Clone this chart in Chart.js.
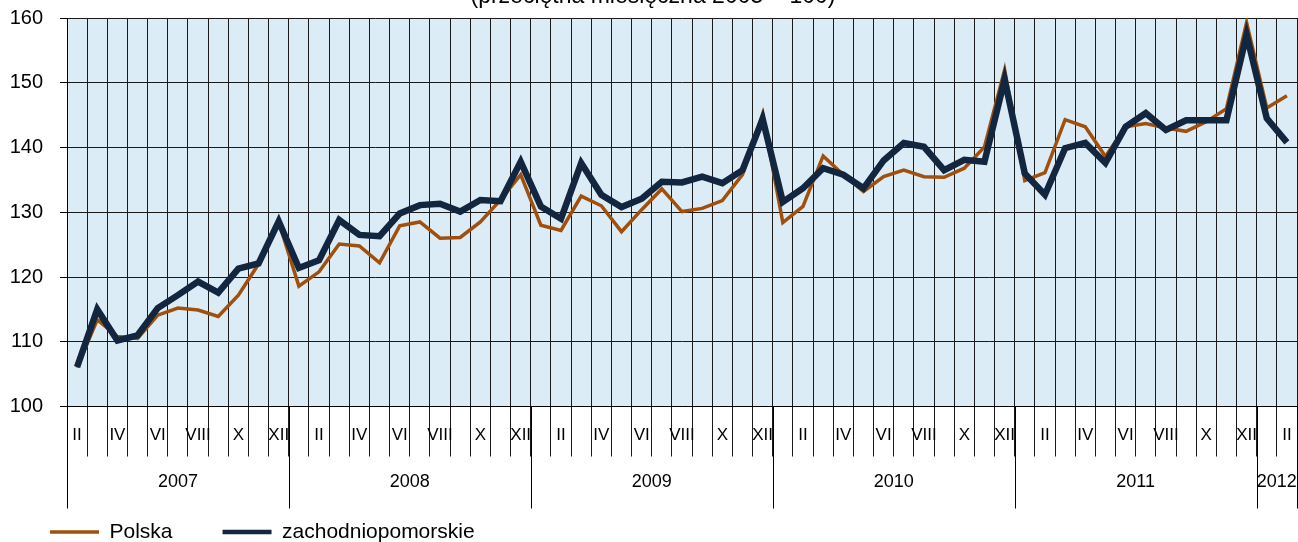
<!DOCTYPE html>
<html>
<head>
<meta charset="utf-8">
<script src="https://cdn.jsdelivr.net/npm/chart.js@4.4.1/dist/chart.umd.min.js"></script>
<style>
html,body{margin:0;padding:0;background:#fff;}
#wrap{width:1298px;height:542px;position:relative;}
canvas{display:block;}
</style>
</head>
<body>
<div id="wrap"><canvas id="c" width="1298" height="542"></canvas></div>
<script>
// ---------------- data ----------------
const titleText = '(przeciętna miesięczna 2005 = 100)';

const months = [
  'II','III','IV','V','VI','VII','VIII','IX','X','XI','XII',
  'I','II','III','IV','V','VI','VII','VIII','IX','X','XI','XII',
  'I','II','III','IV','V','VI','VII','VIII','IX','X','XI','XII',
  'I','II','III','IV','V','VI','VII','VIII','IX','X','XI','XII',
  'I','II','III','IV','V','VI','VII','VIII','IX','X','XI','XII',
  'I','II'
];
const years = ['2007','2008','2009','2010','2011','2012'];
const monthsPerYear = [11, 12, 12, 12, 12, 2];

const polska = [
  106.0, 113.4, 110.8, 110.5, 114.1, 115.2, 114.9, 113.9, 117.2, 122.0, 128.5,
  118.6, 120.8, 125.1, 124.8, 122.2, 127.9, 128.5, 126.0, 126.1, 128.5, 131.9, 135.8,
  128.0, 127.2, 132.5, 131.0, 127.0, 130.4, 133.6, 130.1, 130.6, 131.8, 135.8, 145.2,
  128.4, 130.9, 138.7, 135.8, 133.2, 135.5, 136.5, 135.5, 135.4, 136.8, 140.1, 152.0,
  134.9, 136.1, 144.3, 143.2, 138.6, 143.2, 143.7, 143.0, 142.5, 144.0, 146.0, 159.3,
  146.1, 148.0
];
const zachodniopomorskie = [
  106.1, 115.0, 110.2, 111.0, 115.2, 117.2, 119.3, 117.6, 121.3, 122.1, 128.6,
  121.4, 122.6, 128.8, 126.5, 126.3, 129.8, 131.1, 131.3, 130.1, 131.9, 131.7, 137.8,
  130.9, 129.0, 137.6, 132.7, 130.8, 132.1, 134.7, 134.6, 135.5, 134.5, 136.5, 144.4,
  131.6, 133.7, 136.8, 135.8, 133.7, 138.0, 140.7, 140.1, 136.5, 138.1, 137.8, 150.5,
  136.0, 132.7, 139.9, 140.7, 137.6, 143.2, 145.3, 142.7, 144.2, 144.2, 144.2, 157.4,
  144.5, 140.8
];
const yMin = 100, yMax = 160, yStep = 10;

// ---------------- style ----------------
const FONT = "'Liberation Sans', Arial, sans-serif";
Chart.defaults.font.family = FONT;
Chart.defaults.color = '#000';

const plotBg = {
  id: 'plotBg',
  beforeDraw(chart) {
    const {ctx, chartArea: a} = chart;
    ctx.save();
    ctx.fillStyle = '#fff';
    ctx.fillRect(0, 0, chart.width, chart.height);
    ctx.fillStyle = '#DCECF7';
    ctx.fillRect(a.left, a.top, a.right - a.left, a.bottom - a.top);
    ctx.restore();
  }
};

const yearAxis = {
  id: 'yearAxis',
  afterDraw(chart) {
    const {ctx, chartArea: a} = chart;
    const x = chart.scales.x;
    const step = x.getPixelForValue(1) - x.getPixelForValue(0);
    ctx.save();
    ctx.strokeStyle = '#000';
    ctx.lineWidth = 1;
    ctx.fillStyle = '#000';
    ctx.font = '18px ' + FONT;
    ctx.textAlign = 'center';
    ctx.textBaseline = 'middle';
    let idx = 0;
    const lineAt = (px) => {
      const p = Math.round(px) + 0.5;
      ctx.beginPath();
      ctx.moveTo(p, a.bottom);
      ctx.lineTo(p, a.bottom + 102);
      ctx.stroke();
    };
    years.forEach((yr, k) => {
      const start = x.getPixelForValue(idx) - step / 2;
      const end = x.getPixelForValue(idx + monthsPerYear[k] - 1) + step / 2;
      lineAt(start);
      if (k === years.length - 1) lineAt(Math.min(end, chart.width - 1.5));
      ctx.fillText(yr, (start + end) / 2, a.bottom + 76);
      idx += monthsPerYear[k];
    });
    // partially visible title
    ctx.font = '23px ' + FONT;
    ctx.textBaseline = 'alphabetic';
    ctx.fillText(titleText, 653, 3);
    ctx.restore();
  }
};

new Chart(document.getElementById('c'), {
  type: 'line',
  data: {
    labels: months,
    datasets: [
      {
        label: 'Polska',
        data: polska,
        borderColor: '#A0500C',
        backgroundColor: '#A0500C',
        borderWidth: 3.5,
        pointRadius: 0,
        tension: 0,
        order: 2
      },
      {
        label: 'zachodniopomorskie',
        data: zachodniopomorskie,
        borderColor: '#13263F',
        backgroundColor: '#13263F',
        borderWidth: 6.5,
        pointRadius: 0,
        tension: 0,
        order: 1
      }
    ]
  },
  options: {
    responsive: false,
    animation: false,
    devicePixelRatio: 1,
    layout: {padding: {top: 18, right: 1, bottom: -10.5, left: 0}},
    scales: {
      x: {
        type: 'category',
        offset: true,
        grid: {offset: true, color: '#1a1a1a', lineWidth: 1, drawTicks: true, tickLength: 50, tickColor: '#1a1a1a'},
        border: {color: '#000'},
        ticks: {
          autoSkip: false, maxRotation: 0, minRotation: 0, padding: -31,
          color: '#000', font: {size: 17},
          callback: (v, i) => (i % 2 === 0 ? months[i] : '')
        },
        afterFit: (s) => { s.height = 65; }
      },
      y: {
        min: yMin, max: yMax,
        ticks: {stepSize: yStep, padding: 0, color: '#000', font: {size: 20}},
        grid: {color: '#1a1a1a', lineWidth: 1, drawTicks: true, tickLength: 24, tickColor: '#000', tickBorderDash: [0, 17, 7, 100]},
        border: {color: '#000'},
        afterFit: (s) => { s.width = 67; }
      }
    },
    plugins: {
      legend: {
        position: 'bottom',
        align: 'start',
        labels: {
          usePointStyle: true,
          pointStyle: 'line',
          pointStyleWidth: 49,
          padding: 50,
          color: '#000',
          font: {size: 21},
          sort: (a, b) => a.datasetIndex - b.datasetIndex,
          generateLabels: (chart) => {
            const items = Chart.defaults.plugins.legend.labels.generateLabels(chart);
            items.forEach(it => { it.lineWidth = it.datasetIndex === 0 ? 3.5 : 4.5; it.pointStyle = 'line'; });
            return items;
          }
        }
      },
      tooltip: {enabled: false},
      title: {display: false}
    }
  },
  plugins: [plotBg, yearAxis]
});
</script>
</body>
</html>
